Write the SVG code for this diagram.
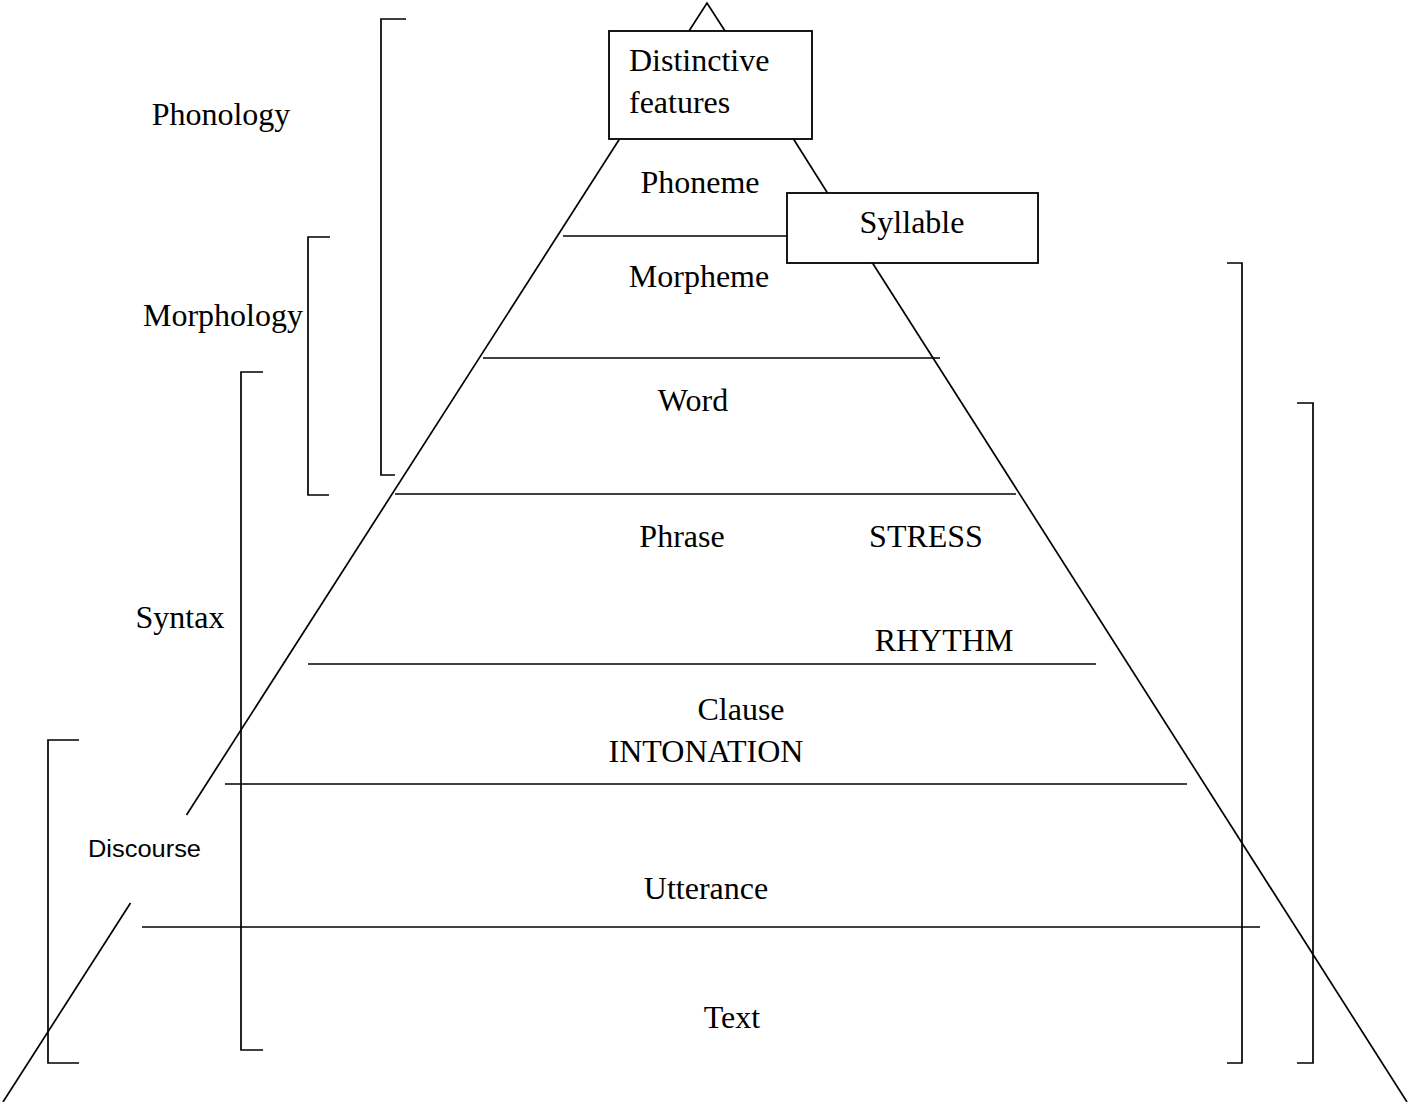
<svg xmlns="http://www.w3.org/2000/svg" width="1411" height="1102" viewBox="0 0 1411 1102">
<style>
.ln{stroke:#000;stroke-width:1.7;fill:none}
.bx{stroke:#000;stroke-width:1.8;fill:#fff}
.t{font-family:"Liberation Serif","Times New Roman",serif;font-size:32px;fill:#000;text-anchor:middle}
.s{font-family:"Liberation Sans",Arial,sans-serif;font-size:23px;fill:#000;text-anchor:middle}
</style>
<rect width="1411" height="1102" fill="#fff"/>
<g id="connectors">
<path class="ln" d="M689,31 L707,3 L725,31"/>
<path class="ln" d="M619.5,139 L186.5,815"/>
<path class="ln" d="M130.5,903 L3,1102"/>
<path class="ln" d="M793.5,139 L827.5,193"/>
<path class="ln" d="M872.5,263 L1407,1102"/>
<path class="ln" d="M563,236 H787"/>
<path class="ln" d="M483,358 H940"/>
<path class="ln" d="M395,494 H1016"/>
<path class="ln" d="M308,664 H1096"/>
<path class="ln" d="M225,784 H1187"/>
<path class="ln" d="M142,927 H1260"/>
<path class="ln" d="M406,19 H381 V475 H395"/>
<path class="ln" d="M330,237 H308 V495 H329"/>
<path class="ln" d="M263,372 H241 V1050 H263"/>
<path class="ln" d="M79,740 H48 V1063 H79"/>
<path class="ln" d="M1227,263 H1242 V1063 H1227"/>
<path class="ln" d="M1297,403 H1313 V1063 H1297"/>
</g>
<g id="distinctive-features">
<rect class="bx" x="609" y="31" width="203" height="108"/>
<text class="t" x="629" y="71" style="text-anchor:start">Distinctive</text>
<text class="t" x="629" y="113" style="text-anchor:start">features</text>
</g>
<g id="syllable">
<rect class="bx" x="787" y="193" width="251" height="70"/>
<text class="t" x="912" y="233">Syllable</text>
</g>
<g id="phoneme"><text class="t" x="700" y="193">Phoneme</text></g>
<g id="morpheme"><text class="t" x="699" y="287">Morpheme</text></g>
<g id="word"><text class="t" x="693" y="411">Word</text></g>
<g id="phrase"><text class="t" x="682" y="547">Phrase</text></g>
<g id="stress"><text class="t" x="926" y="547">STRESS</text></g>
<g id="rhythm"><text class="t" x="944" y="651">RHYTHM</text></g>
<g id="clause"><text class="t" x="741" y="720">Clause</text></g>
<g id="intonation"><text class="t" x="706" y="762">INTONATION</text></g>
<g id="utterance"><text class="t" x="706" y="899">Utterance</text></g>
<g id="text"><text class="t" x="732" y="1028">Text</text></g>
<g id="phonology"><text class="t" x="221" y="125">Phonology</text></g>
<g id="morphology"><text class="t" x="223" y="326">Morphology</text></g>
<g id="syntax"><text class="t" x="180" y="628">Syntax</text></g>
<g id="discourse"><text class="s" x="144.5" y="857" textLength="113" lengthAdjust="spacingAndGlyphs">Discourse</text></g>
</svg>
